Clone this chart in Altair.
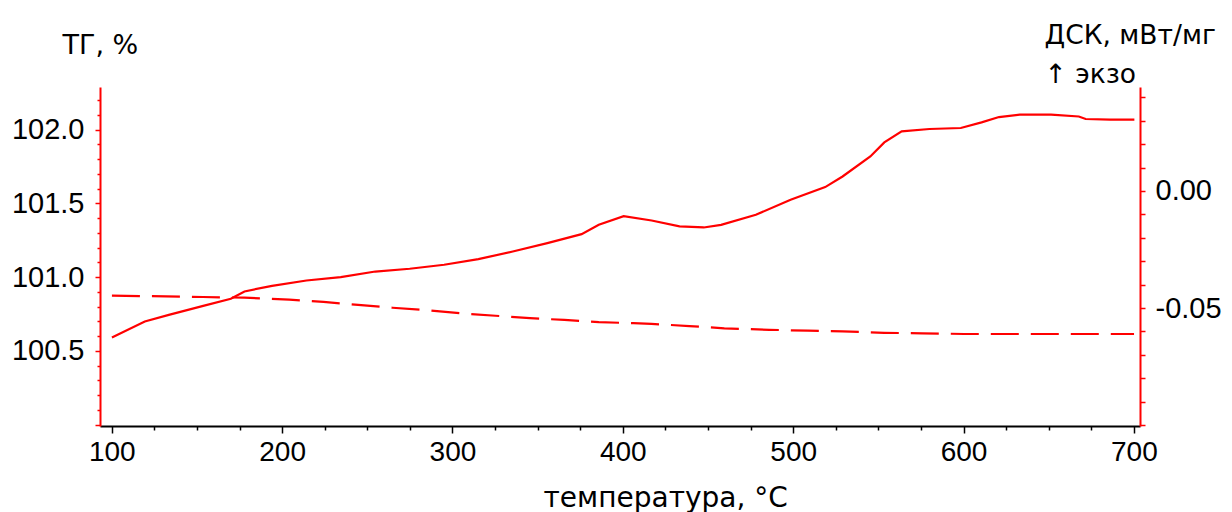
import altair as alt
import pandas as pd

# TG curve (left axis, %)
tg_temp = [100.1, 119.4, 133.5, 153.7, 169.9, 177.9, 194.1, 214.3, 234.4, 254.7,
           274.9, 295.1, 315.2, 335.4, 355.7, 375.8, 385.9, 400.5, 416.9, 433.3,
           447.5, 457.7, 478.1, 498.5, 518.8, 529.0, 545.3, 553.5, 563.7, 580.0,
           598.4, 610.6, 620.8, 633.0, 651.4, 667.7, 671.7, 686.0, 700.3]
tg_val = [100.590, 100.699, 100.744, 100.805, 100.853, 100.903, 100.941, 100.977, 101.000, 101.038,
          101.057, 101.084, 101.122, 101.174, 101.231, 101.292, 101.355, 101.414, 101.384, 101.344,
          101.337, 101.355, 101.423, 101.525, 101.611, 101.683, 101.819, 101.914, 101.989, 102.005,
          102.012, 102.050, 102.086, 102.102, 102.102, 102.090, 102.073, 102.068, 102.068]

# DSC curve (right axis, mW/mg)
dsc_temp = [100.1, 153.5, 177.9, 204.2, 224.3, 244.6, 264.8, 284.9, 305.2, 325.3,
            345.5, 365.7, 385.9, 406.2, 416.8, 439.1, 459.6, 486.0, 508.6, 529.0,
            553.4, 575.8, 600.4, 641.2, 691.9, 700.1]
dsc_val = [-0.0447, -0.0453, -0.0456, -0.0464, -0.0474, -0.0487, -0.0499, -0.0509, -0.0523, -0.0533,
           -0.0543, -0.0551, -0.0560, -0.0565, -0.0568, -0.0577, -0.0587, -0.0593, -0.0597, -0.0600,
           -0.0606, -0.0608, -0.0611, -0.0611, -0.0611, -0.0611]

x_ticks = list(range(100, 701, 25))
tg_ticks = [round(100.0 + 0.1 * i, 1) for i in range(23)]
dsc_ticks = [round(-0.10 + 0.01 * i, 2) for i in range(15)]

tg_df = pd.DataFrame({"T": tg_temp, "TG": tg_val})
dsc_df = pd.DataFrame({"T": dsc_temp, "DSC": dsc_val})

FONT = "Liberation Sans"
TFONT = "DejaVu Sans"
RED = "#ff0000"

x_enc = alt.X(
    "T:Q",
    scale=alt.Scale(domain=[93.1, 703.6], nice=False, zero=False),
    axis=alt.Axis(
        values=x_ticks,
        labelExpr="datum.value % 100 == 0 ? datum.label : ''",
        format="d",
        domainColor="black",
        domainWidth=2,
        tickColor="black",
        tickWidth=1.5,
        tickSize={"condition": {"test": "datum.value % 100 == 0", "value": 7}, "value": 4},
        labelFont=FONT,
        labelFontSize=28,
        labelColor="black",
        labelPadding=5,
        grid=False,
        title="температура, °C",
        titleFont=TFONT,
        titleFontSize=28,
        titleFontWeight="normal",
        titleColor="black",
        titleAlign="left",
        titleBaseline="alphabetic",
        titleX=443,
        titleY=80,
    ),
)

tg_line = alt.Chart(tg_df).mark_line(color=RED, strokeWidth=2.2).encode(
    x=x_enc,
    y=alt.Y(
        "TG:Q",
        scale=alt.Scale(domain=[99.99, 102.29], nice=False, zero=False),
        axis=alt.Axis(
            orient="left",
            values=tg_ticks,
            labelExpr="indexof(['100.5','101.0','101.5','102.0'], format(datum.value, '.1f')) >= 0 ? format(datum.value, '.1f') : ''",
            domainColor=RED,
            domainWidth=2,
            tickColor=RED,
            tickWidth=1.5,
            tickSize={"condition": {"test": "abs(datum.value*2 - round(datum.value*2)) < 0.001", "value": 5}, "value": 3},
            labelFont=FONT,
            labelFontSize=29,
            labelColor="black",
            labelPadding=11,
            grid=False,
            title="ТГ, %",
            titleFont=TFONT,
            titleFontSize=27,
            titleFontWeight="normal",
            titleColor="black",
            titleAngle=0,
            titleAlign="left",
            titleBaseline="alphabetic",
            titleX=-38,
            titleY=-34,
        ),
    ),
)

dsc_line = alt.Chart(dsc_df).mark_line(color=RED, strokeWidth=2.2, strokeDash=[28, 12]).encode(
    x=x_enc,
    y=alt.Y(
        "DSC:Q",
        scale=alt.Scale(domain=[-0.1004, 0.0444], nice=False, zero=False),
        axis=alt.Axis(
            orient="right",
            values=dsc_ticks,
            labelExpr="abs(datum.value) < 1e-9 ? '0.00' : (abs(datum.value + 0.05) < 1e-9 ? '-0.05' : '')",
            domainColor=RED,
            domainWidth=2,
            tickColor=RED,
            tickWidth=1.5,
            tickSize=5,
            labelFont=FONT,
            labelFontSize=29,
            labelColor="black",
            labelPadding=10,
            grid=False,
            title=["ДСК, мВт/мг", "\u00a0↑ экзо"],
            titleFont=TFONT,
            titleFontSize=26.5,
            titleFontWeight="normal",
            titleColor="black",
            titleAngle=0,
            titleAlign="left",
            titleBaseline="alphabetic",
            titleLineHeight=39,
            titleX=-96,
            titleY=-44,
        ),
    ),
)

chart = (
    alt.layer(tg_line, dsc_line)
    .resolve_scale(y="independent")
    .properties(
        width=1040,
        height=339,
        padding={"left": 92, "top": 79, "right": 84, "bottom": 86},
        autosize=alt.AutoSizeParams(type="none"),
        background="white",
    )
    .configure_view(stroke=None)
)

chart.save("out.html", embed_options={"renderer": "svg", "actions": False})
